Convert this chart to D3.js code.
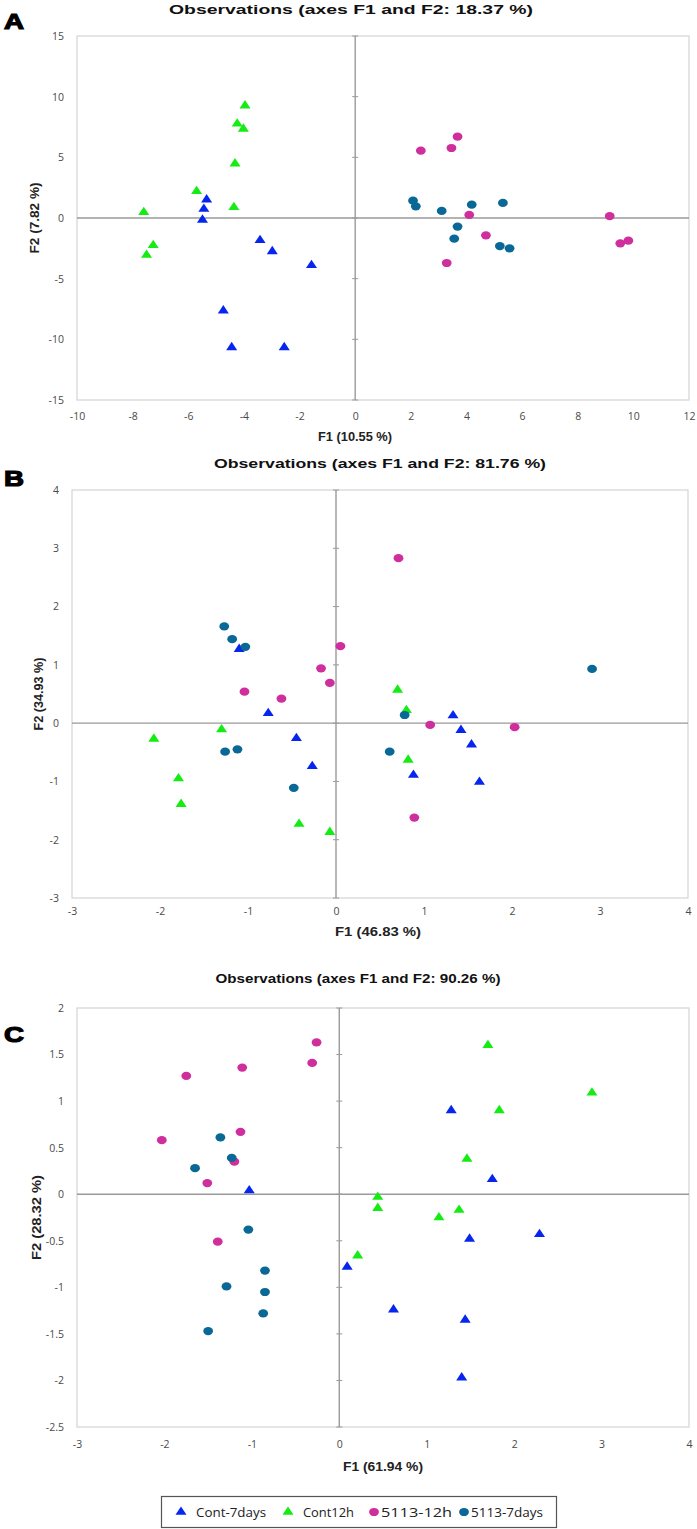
<!DOCTYPE html>
<html><head><meta charset="utf-8">
<script src="https://cdn.jsdelivr.net/npm/d3@7"></script>
<style>
html,body{margin:0;padding:0;background:#fff;}
svg{display:block;}
</style></head>
<body>
<svg id="chart" width="697" height="1529"></svg>
<script>
// ---------- DATA ----------
const seriesNames = ["Cont-7days", "Cont12h", "5113-12h", "5113-7days"];
const seriesColors = ["#0626ee", "#14ec14", "#cf2f9c", "#0a6897"];
const seriesShapes = ["triangle", "triangle", "circle", "circle"];

const titlesA = ["Observations (axes F1 and F2: 18.37 %)", "F1 (10.55 %)", "F2 (7.82 %)"];
const titlesB = ["Observations (axes F1 and F2: 81.76 %)", "F1 (46.83 %)", "F2 (34.93 %)"];
const titlesC = ["Observations (axes F1 and F2: 90.26 %)", "F1 (61.94 %)", "F2 (28.32 %)"];

const xTicksA = [-10, -8, -6, -4, -2, 0, 2, 4, 6, 8, 10, 12];
const yTicksA = [-15, -10, -5, 0, 5, 10, 15];
const xTicksB = [-3, -2, -1, 0, 1, 2, 3, 4];
const yTicksB = [-3, -2, -1, 0, 1, 2, 3, 4];
const xTicksC = [-3, -2, -1, 0, 1, 2, 3, 4];
const yTicksC = [-2.5, -2, -1.5, -1, -0.5, 0, 0.5, 1, 1.5, 2];

// Panel A
const A_cont7days = [[-5.34,1.51],[-5.44,0.74],[-5.49,-0.16],[-3.42,-1.84],[-2.98,-2.75],[-1.57,-3.90],[-4.74,-7.64],[-4.44,-10.66],[-2.55,-10.66]];
const A_cont12h   = [[-3.96,9.26],[-4.24,7.77],[-4.02,7.34],[-4.32,4.48],[-5.70,2.20],[-4.36,0.88],[-7.60,0.47],[-7.26,-2.25],[-7.50,-3.05]];
const A_5113_12h  = [[2.36,5.55],[3.46,5.77],[3.68,6.70],[4.10,0.25],[4.70,-1.43],[3.29,-3.71],[9.15,0.16],[9.53,-2.09],[9.82,-1.87]];
const A_5113_7d   = [[2.08,1.43],[2.18,0.96],[3.11,0.58],[4.19,1.10],[5.31,1.24],[3.68,-0.71],[3.56,-1.70],[5.20,-2.31],[5.55,-2.50]];

// Panel B
const B_cont7days = [[-1.10,1.27],[-0.77,0.17],[-0.45,-0.26],[-0.27,-0.74],[1.33,0.13],[1.42,-0.12],[1.54,-0.37],[0.88,-0.89],[1.63,-1.01]];
const B_cont12h   = [[-1.30,-0.11],[-2.07,-0.27],[-1.79,-0.95],[-1.76,-1.39],[-0.42,-1.73],[-0.07,-1.87],[0.70,0.57],[0.80,0.22],[0.82,-0.63]];
const B_5113_12h  = [[0.05,1.32],[-0.17,0.94],[-0.07,0.69],[-1.04,0.54],[-0.62,0.42],[0.71,2.83],[1.07,-0.03],[2.03,-0.07],[0.89,-1.62]];
const B_5113_7d   = [[-1.27,1.66],[-1.18,1.44],[-1.03,1.31],[-1.26,-0.49],[-1.12,-0.45],[-0.48,-1.11],[2.91,0.93],[0.78,0.14],[0.61,-0.49]];

// Panel C
const C_cont7days = [[-1.03,0.04],[0.09,-0.78],[1.28,0.90],[1.75,0.16],[1.49,-0.48],[2.29,-0.43],[0.62,-1.24],[1.44,-1.35],[1.40,-1.97]];
const C_cont12h   = [[1.70,1.60],[2.89,1.09],[1.83,0.90],[1.46,0.38],[0.44,-0.03],[0.44,-0.15],[1.14,-0.25],[1.37,-0.17],[0.21,-0.66]];
const C_5113_12h  = [[-0.26,1.63],[-0.31,1.41],[-1.11,1.36],[-1.75,1.27],[-1.13,0.67],[-2.03,0.58],[-1.20,0.35],[-1.51,0.12],[-1.39,-0.51]];
const C_5113_7d   = [[-1.36,0.61],[-1.23,0.39],[-1.65,0.28],[-1.04,-0.38],[-0.85,-0.82],[-1.29,-0.99],[-0.85,-1.05],[-0.87,-1.28],[-1.50,-1.47]];

// ---------- LAYOUT ----------
const panels = [
  { letter: "A", titles: titlesA, xTicks: xTicksA, yTicks: yTicksA,
    series: [A_cont7days, A_cont12h, A_5113_12h, A_5113_7d],
    left: 77, right: 689, top: 36, bottom: 400,
    titleX: 351, titleY: 14, titleW: 364,
    xtX: 355, xtY: 441, xtW: 74, ytX: 39, ytW: 71,
    letterX: 4, letterY: 29, xlabY: 421 },
  { letter: "B", titles: titlesB, xTicks: xTicksB, yTicks: yTicksB,
    series: [B_cont7days, B_cont12h, B_5113_12h, B_5113_7d],
    left: 72, right: 688, top: 490, bottom: 898,
    titleX: 380, titleY: 468, titleW: 332,
    xtX: 378, xtY: 936, xtW: 86, ytX: 43, ytW: 73,
    letterX: 4, letterY: 486, xlabY: 916 },
  { letter: "C", titles: titlesC, xTicks: xTicksC, yTicks: yTicksC,
    series: [C_cont7days, C_cont12h, C_5113_12h, C_5113_7d],
    left: 77, right: 689, top: 1008, bottom: 1427,
    titleX: 358, titleY: 983, titleW: 285,
    xtX: 383, xtY: 1471, xtW: 80, ytX: 41, ytW: 85,
    letterX: 4, letterY: 1042, xlabY: 1449 }
];

const svg = d3.select("#chart");
const tickFont = "'Open Sans', 'DejaVu Sans', sans-serif";
const boldFont = "'Liberation Sans', Arial, sans-serif";

function drawMarker(g, shape, color, cx, cy) {
  if (shape === "triangle") {
    g.append("path")
      .attr("d", d3.symbol().type(d3.symbolTriangle).size(48)())
      .attr("transform", `translate(${cx},${cy}) scale(1.05,0.92)`)
      .attr("fill", color);
  } else {
    g.append("ellipse").attr("cx", cx).attr("cy", cy)
      .attr("rx", 4.9).attr("ry", 4.1).attr("fill", color);
  }
}

panels.forEach(p => {
  const xs = d3.scaleLinear().domain(d3.extent(p.xTicks)).range([p.left, p.right]);
  const ys = d3.scaleLinear().domain(d3.extent(p.yTicks)).range([p.bottom, p.top]);
  const g = svg.append("g");

  // frame
  g.append("rect").attr("x", p.left).attr("y", p.top)
    .attr("width", p.right - p.left).attr("height", p.bottom - p.top)
    .attr("fill", "none").attr("stroke", "#d4d4d4").attr("stroke-width", 1.2);

  // zero axes
  g.append("line").attr("x1", xs(0)).attr("x2", xs(0)).attr("y1", p.top).attr("y2", p.bottom)
    .attr("stroke", "#9a9a9a").attr("stroke-width", 1.4);
  g.append("line").attr("x1", p.left).attr("x2", p.right).attr("y1", ys(0)).attr("y2", ys(0))
    .attr("stroke", "#9a9a9a").attr("stroke-width", 1.4);
  // small ticks on vertical zero axis
  g.selectAll(".vt").data(p.yTicks).enter().append("line")
    .attr("x1", xs(0) - 3).attr("x2", xs(0) + 3)
    .attr("y1", d => ys(d)).attr("y2", d => ys(d))
    .attr("stroke", "#9a9a9a").attr("stroke-width", 1);

  // tick labels via axes
  const yAxis = d3.axisLeft(ys).tickValues(p.yTicks).tickSize(0).tickPadding(0)
    .tickFormat(d => String(d));
  const ya = g.append("g").attr("transform", `translate(${p.left - 13},0)`).call(yAxis);
  ya.select(".domain").remove();
  ya.selectAll("text").attr("font-family", tickFont).attr("font-size", 10.5).attr("fill", "#4a4a4a");

  const xAxis = d3.axisBottom(xs).tickValues(p.xTicks).tickSize(0).tickPadding(0)
    .tickFormat(d => String(d));
  const xa = g.append("g").attr("transform", `translate(0,${p.xlabY - 8})`).call(xAxis);
  xa.select(".domain").remove();
  xa.selectAll("text").attr("font-family", tickFont).attr("font-size", 10.5).attr("fill", "#4a4a4a");

  // titles
  g.append("text").attr("x", p.titleX).attr("y", p.titleY).attr("text-anchor", "middle")
    .attr("font-family", boldFont).attr("font-weight", "bold").attr("font-size", 13)
    .attr("textLength", p.titleW).attr("lengthAdjust", "spacingAndGlyphs")
    .attr("fill", "#111").text(p.titles[0]);
  g.append("text").attr("x", p.xtX).attr("y", p.xtY).attr("text-anchor", "middle")
    .attr("font-family", boldFont).attr("font-weight", "bold").attr("font-size", 13)
    .attr("textLength", p.xtW).attr("lengthAdjust", "spacingAndGlyphs")
    .attr("fill", "#222").text(p.titles[1]);
  const cy = (p.top + p.bottom) / 2;
  g.append("text").attr("transform", `translate(${p.ytX},${cy}) rotate(-90)`)
    .attr("text-anchor", "middle")
    .attr("font-family", boldFont).attr("font-weight", "bold").attr("font-size", 13)
    .attr("textLength", p.ytW).attr("lengthAdjust", "spacingAndGlyphs")
    .attr("fill", "#222").text(p.titles[2]);

  // panel letter
  g.append("text").attr("x", p.letterX).attr("y", p.letterY)
    .attr("font-family", boldFont).attr("font-weight", "900").attr("font-size", 22)
    .attr("textLength", 20).attr("lengthAdjust", "spacingAndGlyphs")
    .attr("fill", "#000").attr("stroke", "#000").attr("stroke-width", 1.2).text(p.letter);

  // markers
  p.series.forEach((pts, si) => {
    const sg = g.append("g");
    pts.forEach(d => drawMarker(sg, seriesShapes[si], seriesColors[si], xs(d[0]), ys(d[1])));
  });
});

// ---------- LEGEND ----------
const leg = svg.append("g");
leg.append("rect").attr("x", 161.5).attr("y", 1496.5).attr("width", 395).attr("height", 31)
  .attr("fill", "#fff").attr("stroke", "#555").attr("stroke-width", 1.2);
const legX = [181, 288, 374, 464];
const legTextW = [70, 51, 71, 72];
seriesNames.forEach((name, i) => {
  drawMarker(leg, seriesShapes[i], seriesColors[i], legX[i], 1512);
  leg.append("text").attr("x", legX[i] + (seriesShapes[i] === "triangle" ? 15 : 7)).attr("y", 1517)
    .attr("font-family", tickFont).attr("font-size", 13).attr("fill", "#222")
    .attr("textLength", legTextW[i]).attr("lengthAdjust", "spacingAndGlyphs")
    .text(name);
});
</script>
</body></html>
